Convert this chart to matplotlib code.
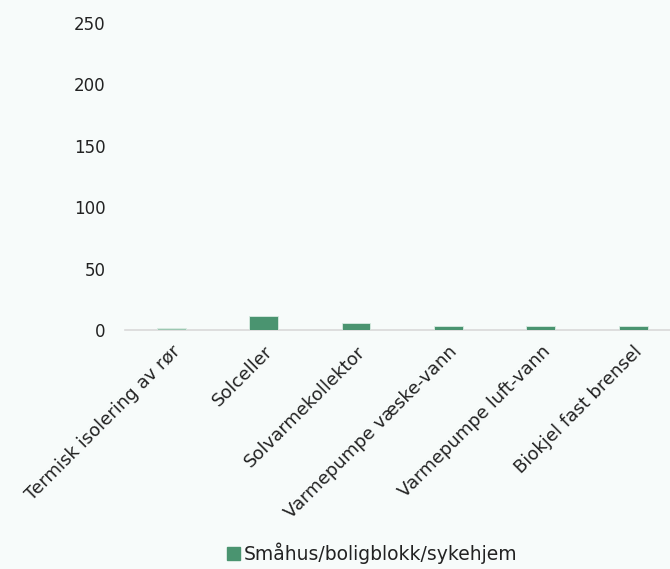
import numpy as np
import matplotlib.pyplot as plt

categories = ["Termisk isolering av rør", "Solceller", "Solvarmekollektor",
              "Varmepumpe væske-vann", "Varmepumpe luft-vann", "Biokjel fast brensel"]
values = [1.5, 11.8, 5.8, 3.5, 3.3, 3.5]
series_name = "Småhus/boligblokk/sykehjem"
yticks = [0, 50, 100, 150, 200, 250]

bg = "#f7fbfa"
bar_color = "#4a9470"

plt.rcParams['font.family'] = ['DejaVu Sans']

fig = plt.figure(figsize=(6.7, 5.69), dpi=100, facecolor=bg)
ax = fig.add_axes([125 / 670, (569 - 330) / 569, 545 / 670, 307 / 569])
ax.set_facecolor(bg)

x = np.arange(len(categories))
colors = [bar_color] * len(values)
colors[0] = "#9cc7b2"
ax.bar(x, values, width=0.31, color=colors, edgecolor="#d9ebe2", linewidth=0.6,
       label=series_name, zorder=3)

ax.set_xlim(-0.5, -0.5 + 545 / 92.4)
ax.set_ylim(0, 250)
ax.set_yticks(yticks)
ax.set_yticklabels([str(t) for t in yticks], fontsize=12, color="#222222")
ax.set_xticks(x)
ax.set_xticklabels(categories, rotation=45, ha="right", rotation_mode="anchor",
                   fontsize=13, color="#222222")
ax.tick_params(axis="y", length=0, pad=14)
ax.tick_params(axis="x", length=0, pad=9)

for s in ["top", "right", "left"]:
    ax.spines[s].set_visible(False)
ax.spines["bottom"].set_color("#d9d9d9")
ax.spines["bottom"].set_linewidth(1.2)

handles = [plt.Rectangle((0, 0), 1, 1, color=bar_color)]
fig.legend(handles, [series_name], loc="center", bbox_to_anchor=(0.555, 0.027),
           frameon=False, fontsize=13.5, handlelength=0.7, handleheight=0.7,
           handletextpad=0.2, labelcolor="#222222")

fig.savefig("out.png", dpi=100, facecolor=bg)
